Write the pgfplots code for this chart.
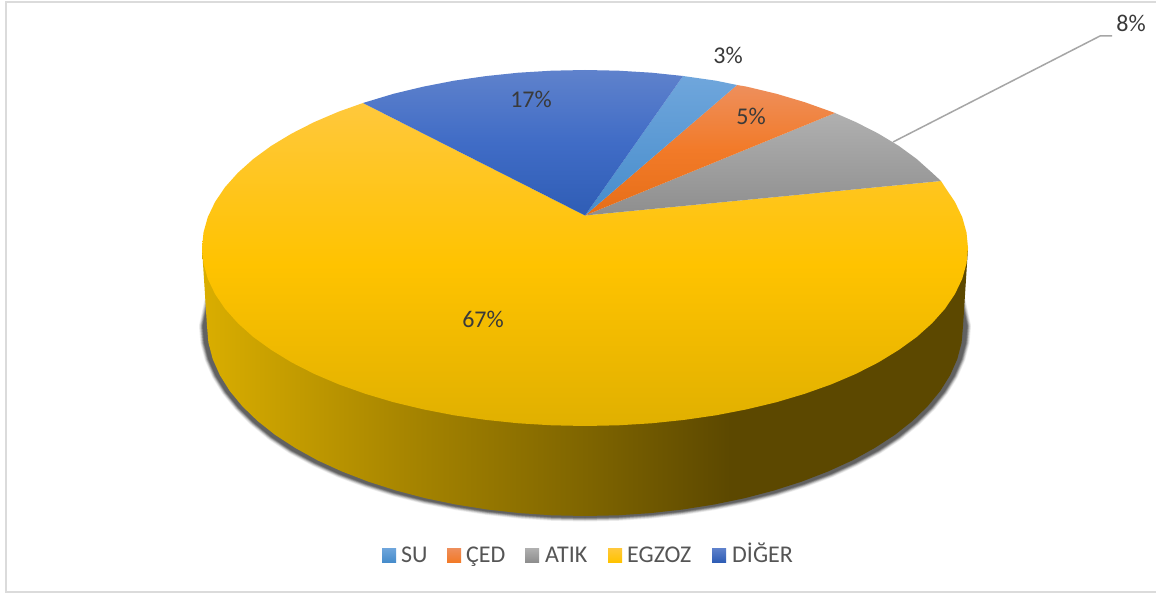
\documentclass[border=0pt]{standalone}
\usepackage{pgfplots}
\usepackage{pgfplotstable}
\usepackage{fontspec}
\setmainfont{Carlito}
\pgfplotsset{compat=1.18}
\definecolor{sa}{HTML}{DAAE00}
\definecolor{sb}{HTML}{A88600}
\definecolor{sc}{HTML}{7F6500}
\definecolor{sd}{HTML}{5C4800}
\definecolor{yt}{HTML}{FFC83C}
\definecolor{ym}{HTML}{FFC300}
\definecolor{yb}{HTML}{E0B000}
\definecolor{gt}{HTML}{B0B0B0}
\definecolor{gb}{HTML}{8E8E8E}
\definecolor{ot}{HTML}{EE8F5C}
\definecolor{om}{HTML}{F27A28}
\definecolor{ob}{HTML}{E66E17}
\definecolor{lt}{HTML}{6FA6DC}
\definecolor{lb}{HTML}{468CCB}
\definecolor{bt}{HTML}{5F82CC}
\definecolor{bm}{HTML}{406CC6}
\definecolor{bb}{HTML}{2F5DB5}
\definecolor{leader}{HTML}{A6A6A6}
\definecolor{lab}{HTML}{3A3A3A}
\definecolor{leg}{HTML}{555555}
\pgfdeclarehorizontalshading{sideshade}{100bp}{color(0bp)=(sa); color(25bp)=(sa); color(38bp)=(sb); color(50bp)=(sc); color(59.5bp)=(sd); color(100bp)=(sd)}
\pgfplotstableread{
x y
202 248
207 326
208.4 342.6
212.7 359
219.9 375.2
229.8 391
242.4 406.3
257.6 421
275.3 435
295.5 448.1
317.7 460.4
342 471.5
368.2 481.6
396 490.5
425.3 498.2
455.7 504.5
487.2 509.5
519.4 513.1
552 515.3
585 516
618 515.3
650.6 513.1
682.8 509.5
714.3 504.5
744.7 498.2
774 490.5
801.8 481.6
828 471.5
852.3 460.4
874.5 448.1
894.7 435
912.4 421
927.6 406.3
940.2 391
950.1 375.2
957.3 359
961.6 342.6
963 326
968 248
}\sidetable
\pgfplotstableread{
x y
209 298
203 326
204.4 342.6
208.7 359
215.9 375.5
225.8 391.5
238.4 407
253.6 422
271.3 436.5
291.5 450
314.7 462.4
339 473.5
366.2 483.6
394.5 492.5
424.5 500
455.2 506
487 511
519.4 514.6
552 516.8
585 517.5
618 516.8
650.6 514.6
683 511
714.8 506
745.5 500
775.5 492.5
803.8 483.6
831 473.5
855.3 462.4
878.5 450
898.7 436.5
916.4 422
931.6 407
944.2 391.5
954.1 375.5
961.3 359
965.6 342.6
967 326
961 298
209 298
}\shadowtable
\begin{document}
\begin{tikzpicture}
\begin{axis}[
  hide axis, scale only axis, width=1156pt, height=593pt,
  xmin=0, xmax=1156, ymin=0, ymax=593, y dir=reverse, clip=true,
  every axis plot/.append style={mark=none}
]
% background and frame
\addplot[fill=white, draw=none] coordinates {(0,0) (1156,0) (1156,593) (0,593)};
\addplot[draw=black!14, line width=2pt] coordinates {(1156,2.5) (6,2.5) (6,592.3) (1156,592.3)};
% shadow, soft edge from lighter to darker outlines
\addplot[draw=black!7, line width=8pt, line join=round] table[x=x,y=y] {\shadowtable};
\addplot[draw=black!16, line width=6.5pt, line join=round] table[x=x,y=y] {\shadowtable};
\addplot[draw=black!28, line width=5pt, line join=round] table[x=x,y=y] {\shadowtable};
\addplot[draw=black!42, line width=3.5pt, line join=round] table[x=x,y=y] {\shadowtable};
\addplot[draw=black!54, line width=2pt, line join=round] table[x=x,y=y] {\shadowtable};
\addplot[fill=black!62, draw=black!62, line width=.5pt] table[x=x,y=y] {\shadowtable};
% side wall
\addplot[shade, shading=sideshade, draw=none] table[x=x,y=y] {\sidetable};
% EGZOZ
\addplot[shade, top color=yt, bottom color=yb, middle color=ym, draw=none] coordinates {
(585,215.5) (941,181) (944.9,187.1) (954.9,201.9) (962.2,217.1) (966.5,232.5) (968,248)
(966.5,263.5) (962.2,278.9) (954.9,294.1) (944.9,308.9) (932.1,323.2) (916.7,337) (898.8,349.9)
(878.4,362.4) (855.8,373.9) (831.2,384.4) (804.7,393.8) (776.5,402.2) (746.9,409.3) (716,415.3)
(684.1,419.9) (651.5,423.3) (618.4,425.3) (585,426) (551.6,425.3) (518.5,423.3) (485.9,419.9)
(454,415.3) (423.1,409.3) (393.5,402.2) (365.3,393.8) (338.8,384.4) (314.2,373.9) (291.6,362.4)
(271.2,349.9) (253.3,337) (237.9,323.2) (225.1,308.9) (215.1,294.1) (207.8,278.9) (203.5,263.5)
(202,248) (203.5,232.5) (207.8,217.1) (215.1,201.9) (225.1,187.1) (237.9,172.8) (253.3,159)
(271.2,145.9) (291.6,133.6) (314.2,122.1) (338.8,111.6) (363,103) (585,215.5)};
% ATIK
\addplot[shade, top color=gt, bottom color=gb, draw=none] coordinates {
(585,215.5) (835,113) (855.8,122.1) (878.4,133.6) (898.8,145.9) (916.7,159) (932.1,172.8) (941,181) (585,215.5)};
% CED
\addplot[shade, top color=ot, bottom color=ob, middle color=om, draw=none] coordinates {
(585,215.5) (737,85) (746.9,86.7) (776.5,93.8) (804.7,102.2) (835,113) (585,215.5)};
% SU
\addplot[shade, top color=lt, bottom color=lb, draw=none] coordinates {
(585,215.5) (683,76) (716,80.7) (737,85) (585,215.5)};
% DIGER
\addplot[shade, top color=bt, bottom color=bb, middle color=bm, draw=none] coordinates {
(585,215.5) (363,103) (393.5,93.8) (423.1,86.7) (454,80.7) (485.9,76.1) (518.5,72.7) (551.6,70.7)
(585,70) (618.4,70.7) (651.5,72.7) (683,76) (585,215.5)};
% leader line
\addplot[draw=leader, line width=1.5pt] coordinates {(893,142) (1100,36) (1112,36)};
% data labels
\node[text=lab, font=\fontsize{24}{28}\selectfont] at (axis cs:728,55) {3\%};
\node[text=lab, font=\fontsize{24}{28}\selectfont] at (axis cs:531,99) {17\%};
\node[text=lab, font=\fontsize{24}{28}\selectfont] at (axis cs:751,116) {5\%};
\node[text=lab, font=\fontsize{24}{28}\selectfont] at (axis cs:483,319) {67\%};
\node[text=lab, font=\fontsize{24}{28}\selectfont] at (axis cs:1131,23) {8\%};
% legend
\addplot[shade, top color=lt, bottom color=lb, draw=none] coordinates {(382,548) (396,548) (396,562) (382,562)};
\addplot[shade, top color=ot, bottom color=om, draw=none] coordinates {(447,548) (461,548) (461,562) (447,562)};
\addplot[shade, top color=gt, bottom color=gb, draw=none] coordinates {(525,548) (539,548) (539,562) (525,562)};
\addplot[shade, top color=yt, bottom color=ym, draw=none] coordinates {(608,548) (622,548) (622,562) (608,562)};
\addplot[shade, top color=bt, bottom color=bb, draw=none] coordinates {(712,548) (726,548) (726,562) (712,562)};
\node[anchor=base west, inner sep=0pt, text=leg, font=\fontsize{24}{28}\selectfont] at (axis cs:401,562) {SU};
\node[anchor=base west, inner sep=0pt, text=leg, font=\fontsize{24}{28}\selectfont] at (axis cs:466,562) {ÇED};
\node[anchor=base west, inner sep=0pt, text=leg, font=\fontsize{24}{28}\selectfont] at (axis cs:545,562) {ATIK};
\node[anchor=base west, inner sep=0pt, text=leg, font=\fontsize{24}{28}\selectfont] at (axis cs:627,562) {EGZOZ};
\node[anchor=base west, inner sep=0pt, text=leg, font=\fontsize{24}{28}\selectfont] at (axis cs:732,562) {DİĞER};
\end{axis}
\end{tikzpicture}
\end{document}
